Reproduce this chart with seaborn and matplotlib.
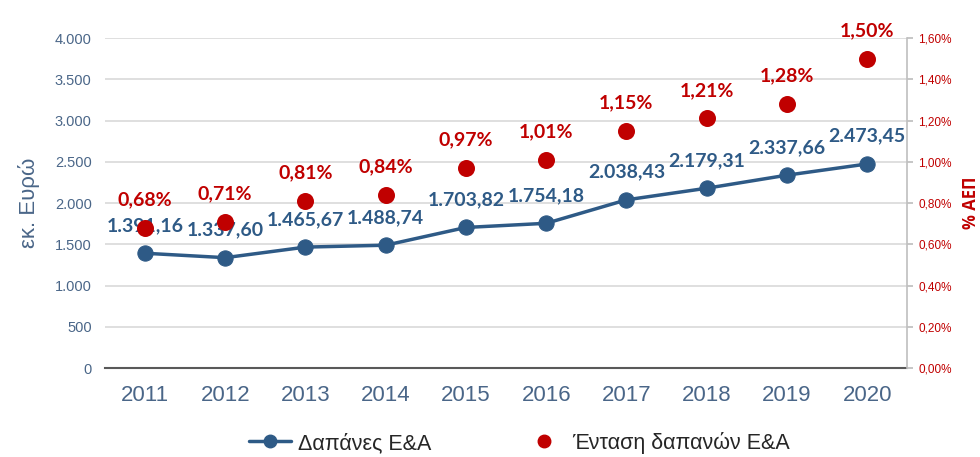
import matplotlib
matplotlib.use("Agg")
import matplotlib.pyplot as plt
import seaborn as sns
import pandas as pd
from matplotlib.lines import Line2D
from matplotlib.ticker import FuncFormatter, MultipleLocator

years = ["2011", "2012", "2013", "2014", "2015", "2016", "2017", "2018", "2019", "2020"]
spending = [1391.16, 1337.60, 1465.67, 1488.74, 1703.82, 1754.18, 2038.43, 2179.31, 2337.66, 2473.45]
intensity = [0.68, 0.71, 0.81, 0.84, 0.97, 1.01, 1.15, 1.21, 1.28, 1.50]
series_names = ["Δαπάνες Ε&Α", "Ένταση δαπανών Ε&Α"]

BLUE = "#2E5A86"
RED = "#C00000"
TICK_BLUE = "#4A6688"

sns.set_theme(style="white")
plt.rcParams["font.family"] = ["Liberation Sans", "DejaVu Sans"]

df = pd.DataFrame({"year": years, "spending": spending, "intensity": intensity})
df["pos"] = range(len(years))

fig = plt.figure(figsize=(9.8, 4.57), dpi=100)
ax = fig.add_axes([0.107, 0.1947, 0.8188, 0.7221])
ax2 = ax.twinx()

ax.set_ylim(0, 4000)
ax.set_xlim(-0.5, len(years) - 0.5)
ax.yaxis.set_major_locator(MultipleLocator(500))
ax.grid(axis="y", color="#D9D9D9", linewidth=1.2)
ax.set_axisbelow(True)

sns.lineplot(data=df, x="pos", y="spending", ax=ax, color=BLUE, linewidth=2.5,
             marker="o", markersize=11, markeredgecolor=BLUE, zorder=3)
sns.scatterplot(data=df, x="pos", y="intensity", ax=ax2, color=RED, s=150,
                edgecolor=RED, linewidth=0, zorder=3)
ax2.set_ylim(0, 1.6)
ax2.set_xlim(-0.5, len(years) - 0.5)

def gr_num(v, dec):
    s = f"{v:,.{dec}f}"
    return s.replace(",", "X").replace(".", ",").replace("X", ".")

for i, v in enumerate(spending):
    ax.annotate(gr_num(v, 2), (i, v), xytext=(0, 20), textcoords="offset points",
                ha="center", va="center", color=BLUE, fontsize=14, fontweight="bold",
                family=["Lato", "DejaVu Sans"], zorder=5)
for i, v in enumerate(intensity):
    ax2.annotate(gr_num(v, 2) + "%", (i, v), xytext=(0, 20), textcoords="offset points",
                 ha="center", va="center", color=RED, fontsize=14, fontweight="bold",
                 family=["Lato", "DejaVu Sans"], zorder=5)

ax.set_xticks(range(len(years)))
ax.set_xticklabels(years, fontsize=16, color=TICK_BLUE)
ax.yaxis.set_major_formatter(FuncFormatter(lambda v, p: gr_num(v, 0)))
ax.tick_params(axis="y", labelsize=10.5, labelcolor=TICK_BLUE, length=0, pad=9.5)
ax.tick_params(axis="x", length=0, pad=12)

ax2.yaxis.set_major_locator(MultipleLocator(0.2))
ax2.yaxis.set_major_formatter(FuncFormatter(lambda v, p: gr_num(v, 2) + "%"))
ax2.tick_params(axis="y", labelsize=8.5, labelcolor=RED, length=4, color="#BFBFBF",
                direction="out", pad=4)

for a in (ax, ax2):
    a.set_xlabel("")
    for s in ("top", "left"):
        a.spines[s].set_visible(False)
ax.spines["right"].set_visible(False)
ax2.spines["right"].set_color("#BFBFBF")
ax2.spines["right"].set_linewidth(1.2)
ax.spines["bottom"].set_color("#595959")
ax.spines["bottom"].set_linewidth(1.5)
ax2.spines["bottom"].set_visible(False)

ax.set_ylabel("εκ. Ευρώ", fontsize=16, color=TICK_BLUE)
ax.yaxis.set_label_coords(-0.081, 0.5)
ax2.set_ylabel("% ΑΕΠ", fontsize=12, color=RED, fontweight="bold",
               family=["Open Sans", "DejaVu Sans"])
ax2.yaxis.set_label_coords(1.0686, 0.5)

handles = [
    Line2D([0], [0], color=BLUE, linewidth=2.5, marker="o", markersize=9),
    Line2D([0], [0], color=RED, linewidth=0, marker="o", markersize=9),
]
fig.legend(handles, series_names, loc="center", bbox_to_anchor=(0.53, 0.031),
           ncol=2, frameon=False, fontsize=15.5, columnspacing=4.3, handlelength=1.95,
           handletextpad=0.3, labelcolor="#262626")

fig.savefig("out.png", dpi=100)
